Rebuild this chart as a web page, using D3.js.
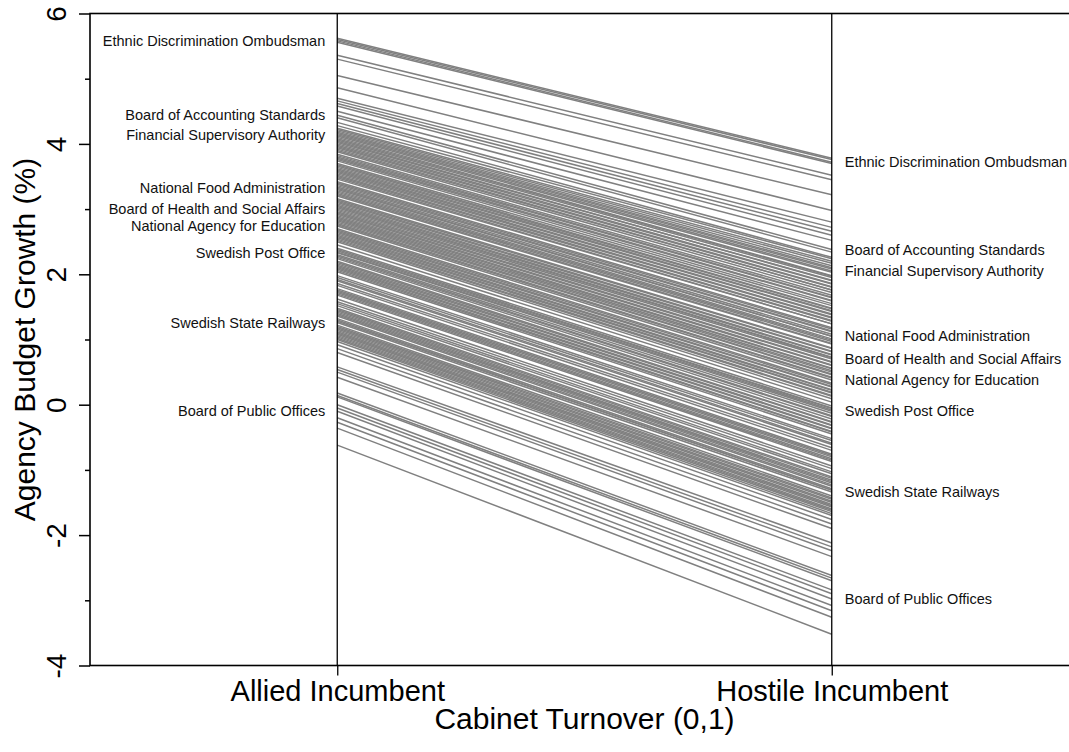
<!DOCTYPE html>
<html>
<head>
<meta charset="utf-8">
<script src="https://cdn.jsdelivr.net/npm/d3@7"></script>
<style>
  html, body { margin: 0; padding: 0; background: #fff; }
  svg { display: block; font-family: "Liberation Sans", Arial, sans-serif; }
</style>
</head>
<body>
<svg></svg>
<script>
// named agencies (printed next to their lines)
const labelNames = [
    "Ethnic Discrimination Ombudsman",
    "Board of Accounting Standards",
    "Financial Supervisory Authority",
    "National Food Administration",
    "Board of Health and Social Affairs",
    "National Agency for Education",
    "Swedish Post Office",
    "Swedish State Railways",
    "Board of Public Offices",
];
const labelAllied = [5.58, 4.44, 4.14, 3.32, 3.00, 2.74, 2.33, 1.26, -0.10];
const labelHostile = [3.72, 2.38, 2.05, 1.05, 0.70, 0.38, -0.10, -1.34, -2.98];

// all the other agencies: predicted growth with allied / hostile incumbent
const allied = [
    5.62, 5.60, 5.56, 5.36, 5.30, 5.05, 4.86, 4.70, 4.66, 4.62, 4.58, 4.50, 4.40, 4.33, 4.28,
    4.24, 4.22, 4.20, 4.18, 4.16, 4.12, 4.10, 4.08, 4.06, 4.04, 4.02, 4.00, 3.98, 3.96, 3.94,
    3.92, 3.90, 3.88, 3.84, 3.82, 3.80, 3.78, 3.76, 3.74, 3.70, 3.68, 3.66, 3.64, 3.62, 3.60,
    3.58, 3.56, 3.54, 3.52, 3.50, 3.48, 3.46, 3.42, 3.40, 3.38, 3.36, 3.34, 3.30, 3.28, 3.26,
    3.24, 3.22, 3.20, 3.16, 3.14, 3.12, 3.10, 3.08, 3.06, 3.04, 3.02, 2.98, 2.96, 2.94, 2.92,
    2.90, 2.88, 2.86, 2.84, 2.82, 2.80, 2.78, 2.76, 2.70, 2.68, 2.66, 2.64, 2.62, 2.60, 2.58,
    2.56, 2.54, 2.52, 2.50, 2.45, 2.40, 2.38, 2.36, 2.34, 2.30,
    2.28, 2.26, 2.24, 2.20, 2.18, 2.16, 2.14, 2.12, 2.10, 2.08, 2.06, 2.04, 1.98, 1.95, 1.92,
    1.90, 1.86, 1.83, 1.78, 1.76, 1.74, 1.72, 1.70, 1.68, 1.62, 1.58, 1.55, 1.52, 1.48, 1.46,
    1.44, 1.42, 1.40, 1.38, 1.36, 1.32, 1.30, 1.28, 1.22, 1.20, 1.18, 1.16, 1.14, 1.12, 1.10,
    1.08, 1.06, 1.04, 1.02, 1.00, 0.97,
    0.92, 0.86, 0.80, 0.58, 0.54, 0.50, 0.42, 0.18, 0.14, 0.12, 0.00, -0.05, -0.20, -0.27, -0.36, -0.62,
];
const hostile = [
    3.78, 3.76, 3.70, 3.52, 3.45, 3.22, 2.98, 2.80, 2.72, 2.66, 2.60, 2.52, 2.34, 2.26, 2.24,
    2.20, 2.17, 2.13, 2.10, 2.08, 2.03, 1.98, 1.97, 1.95, 1.90, 1.91, 1.86, 1.85, 1.81, 1.80,
    1.76, 1.76, 1.72, 1.68, 1.65, 1.64, 1.60, 1.59, 1.55, 1.52, 1.48, 1.47, 1.44, 1.43, 1.39,
    1.38, 1.34, 1.33, 1.29, 1.28, 1.24, 1.24, 1.18, 1.16, 1.13, 1.12, 1.08, 1.05, 1.01, 0.99,
    0.97, 0.94, 0.93, 0.87, 0.86, 0.82, 0.81, 0.77, 0.76, 0.73, 0.72, 0.66, 0.65, 0.61, 0.60,
    0.56, 0.55, 0.52, 0.50, 0.47, 0.46, 0.42, 0.41, 0.33, 0.31, 0.28, 0.27, 0.23, 0.22, 0.19,
    0.18, 0.14, 0.13, 0.09, 0.04, -0.02, -0.05, -0.06, -0.08, -0.13,
    -0.17, -0.18, -0.22, -0.26, -0.27, -0.31, -0.32, -0.36, -0.37, -0.41, -0.42, -0.45, -0.52, -0.55, -0.59,
    -0.61, -0.66, -0.70, -0.76, -0.78, -0.80, -0.83, -0.85, -0.87, -0.94, -0.98, -1.03, -1.06, -1.11, -1.13,
    -1.16, -1.18, -1.20, -1.23, -1.25, -1.29, -1.31, -1.31, -1.40, -1.43, -1.45, -1.48, -1.50, -1.53, -1.55,
    -1.57, -1.60, -1.62, -1.64, -1.67, -1.70,
    -1.76, -1.83, -1.90, -2.12, -2.18, -2.24, -2.33, -2.62, -2.66, -2.70, -2.84, -2.90, -3.08, -3.16, -3.26, -3.52,
];

const turnoverLabels = ["Allied Incumbent", "Hostile Incumbent"];
const yMajorTicks = [-4, -2, 0, 2, 4, 6];
const yMinorTicks = [-3, -1, 1, 3, 5];

const width = 1069;
const height = 752;
const margin = { left: 90, top: 13.5, right: -10, bottom: 86.5 };

const svg = d3.select("svg").attr("width", width).attr("height", height);
const g = svg.append("g");

//1. Scales (plot box runs past the right edge of the page)
const x = d3.scaleLinear()
    .domain([-0.5, 1.5])
    .range([margin.left, width - margin.right]);

const y = d3.scaleLinear()
    .domain([-4, 6])
    .range([height - margin.bottom, margin.top]);

//2. One segment per agency
const agencies = allied.map((a, i) => ({ a: a, h: hostile[i] }))
    .concat(labelAllied.map((a, i) => ({ a: a, h: labelHostile[i] })));

g.append("g")
    .selectAll("line")
    .data(agencies)
    .join("line")
    .attr("x1", x(0))
    .attr("x2", x(1))
    .attr("y1", d => y(d.a))
    .attr("y2", d => y(d.h))
    .attr("stroke", "#808080")
    .attr("stroke-width", 1.5);

//3. Vertical guide lines at the two conditions
g.append("g")
    .selectAll("line")
    .data([0, 1])
    .join("line")
    .attr("x1", d => x(d))
    .attr("x2", d => x(d))
    .attr("y1", y(6))
    .attr("y2", y(-4))
    .attr("stroke", "#000")
    .attr("stroke-width", 1.3);

//4. Frame
g.append("rect")
    .attr("x", x(-0.5))
    .attr("y", y(6))
    .attr("width", x(1.5) - x(-0.5))
    .attr("height", y(-4) - y(6))
    .attr("fill", "none")
    .attr("stroke", "#000")
    .attr("stroke-width", 1.6);

//5. Axes
const yAxis = g.append("g")
    .attr("transform", `translate(${margin.left}, 0)`)
    .call(d3.axisLeft(y).tickValues(yMajorTicks).tickSize(11).tickFormat(d => String(d)));
yAxis.select(".domain").remove();
yAxis.selectAll("line").attr("stroke-width", 1.5);
yAxis.selectAll("text")
    .attr("x", null)
    .attr("dy", null)
    .attr("transform", "translate(-24, 0) rotate(-90)")
    .attr("text-anchor", "middle")
    .attr("fill", "#000")
    .style("font-size", "28px")
    .style("font-family", "Liberation Sans, Arial, sans-serif");

const yMinor = g.append("g")
    .attr("transform", `translate(${margin.left}, 0)`)
    .call(d3.axisLeft(y).tickValues(yMinorTicks).tickSize(5).tickFormat(""));
yMinor.select(".domain").remove();
yMinor.selectAll("line").attr("stroke-width", 1.5);

const xAxis = g.append("g")
    .attr("transform", `translate(0, ${height - margin.bottom})`)
    .call(d3.axisBottom(x).tickValues([0, 1]).tickSize(10).tickFormat(d => turnoverLabels[d]));
xAxis.select(".domain").remove();
xAxis.selectAll("line").attr("stroke-width", 1.3);
xAxis.selectAll("text")
    .attr("y", 35)
    .attr("dy", null)
    .attr("fill", "#000")
    .style("font-size", "29px")
    .style("font-family", "Liberation Sans, Arial, sans-serif");

//6. Axis titles
g.append("text")
    .attr("x", (x(-0.5) + x(1.5)) / 2)
    .attr("y", 729)
    .attr("text-anchor", "middle")
    .style("font-size", "30px")
    .text("Cabinet Turnover (0,1)");

g.append("text")
    .attr("transform", `translate(35, ${(y(6) + y(-4)) / 2}) rotate(-90)`)
    .attr("text-anchor", "middle")
    .style("font-size", "30px")
    .text("Agency Budget Growth (%)");

//7. Agency names beside the lines
g.append("g")
    .selectAll("text")
    .data(labelNames)
    .join("text")
    .attr("x", x(0) - 12)
    .attr("y", (d, i) => y(labelAllied[i]))
    .attr("dy", "0.35em")
    .attr("text-anchor", "end")
    .attr("fill", "#111")
    .style("font-size", "14.5px")
    .text(d => d);

g.append("g")
    .selectAll("text")
    .data(labelNames)
    .join("text")
    .attr("x", x(1) + 13)
    .attr("y", (d, i) => y(labelHostile[i]))
    .attr("dy", "0.35em")
    .attr("text-anchor", "start")
    .attr("fill", "#111")
    .style("font-size", "14.5px")
    .text(d => d);
</script>
</body>
</html>
